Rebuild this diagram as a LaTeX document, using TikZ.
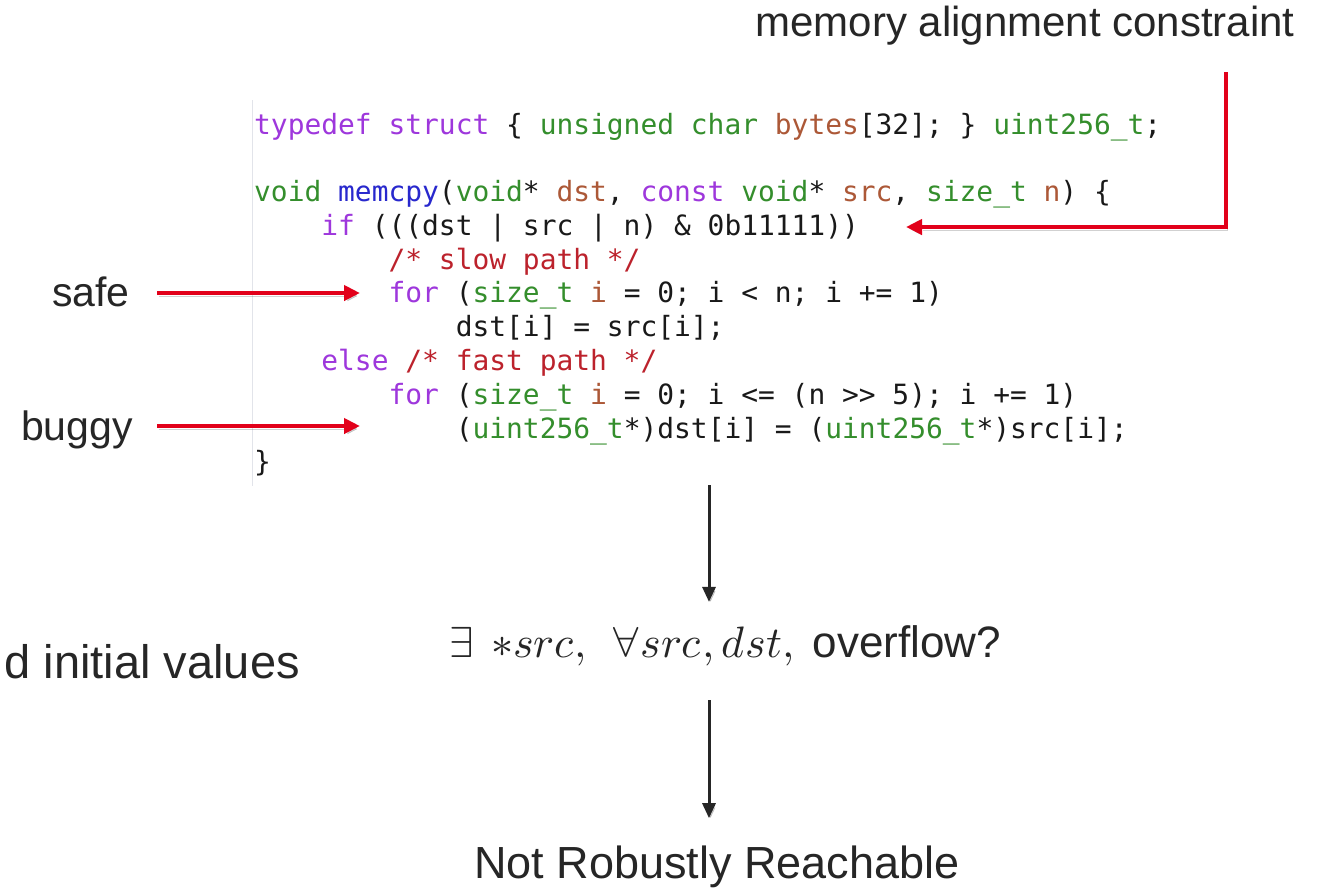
\documentclass[tikz,border=0pt]{standalone}
\usepackage{fontspec}
\usepackage{unicode-math}
\setmainfont{Liberation Sans}
\setmonofont{DejaVu Sans Mono}
\usetikzlibrary{arrows.meta}

% syntax colours of the code listing
\definecolor{kwpurple}{RGB}{158,55,220}
\definecolor{tygreen}{RGB}{52,142,44}
\definecolor{vnbrown}{RGB}{172,88,55}
\definecolor{fnblue}{RGB}{40,40,205}
\definecolor{cmtred}{RGB}{188,34,44}
\definecolor{codeblack}{RGB}{25,25,25}
% annotation colours
\definecolor{alertred}{RGB}{226,0,26}
\definecolor{arrowblack}{RGB}{38,38,38}
\definecolor{labelgray}{RGB}{38,38,38}
\definecolor{gutter}{RGB}{226,228,234}

\newcommand{\kwd}[1]{\textcolor{kwpurple}{#1}}
\newcommand{\typ}[1]{\textcolor{tygreen}{#1}}
\newcommand{\vnm}[1]{\textcolor{vnbrown}{#1}}
\newcommand{\fnc}[1]{\textcolor{fnblue}{#1}}
\newcommand{\cmt}[1]{\textcolor{cmtred}{#1}}

\tikzset{
  codeline/.style={anchor=base west, inner sep=0pt, text=codeblack,
    font=\fontsize{27.9}{32}\selectfont\ttfamily},
  sidelabel/.style={anchor=base east, inner sep=0pt, text=labelgray,
    font=\fontsize{41}{48}\selectfont},
  caption/.style={anchor=base, inner sep=0pt, text=labelgray},
  softshadow/.style={preaction={draw=black, opacity=0.18,
    transform canvas={shift={(1.5pt,-3pt)}}}},
  redarrow/.style={draw=alertred, line width=4pt, softshadow,
    -{Triangle[length=16pt,width=15pt]}},
  blackarrow/.style={draw=arrowblack, line width=3pt, softshadow,
    -{Triangle[length=15pt,width=13pt]}},
}

\begin{document}
\begin{tikzpicture}[x=1pt,y=-1pt]
\useasboundingbox (0,0) rectangle (1322,895);
\fill[white] (0,0) rectangle (1322,895);

% left edge of the editor pane
\draw[gutter, line width=1pt] (252,100) -- (252,486);

% code listing (column width 16.8, line pitch 33.8)
\node[codeline] (l1) at (254,134) {\kwd{typedef} \kwd{struct} \{ \typ{unsigned} \typ{char} \vnm{bytes}[32]; \} \typ{uint256\_t};};
\node[codeline] (l2) at (254,201.5) {\typ{void} \fnc{memcpy}(\typ{void}* \vnm{dst}, \kwd{const} \typ{void}* \vnm{src}, \typ{size\_t} \vnm{n}) \{};
\node[codeline] (l3) at (321.2,235.3) {\kwd{if} (((dst | src | n) \& 0b11111))};
\node[codeline] (l4) at (388.4,269) {\cmt{/* slow path */}};
\node[codeline] (l5) at (388.4,302.8) {\kwd{for} (\typ{size\_t} \vnm{i} = 0; i < n; i += 1)};
\node[codeline] (l6) at (455.6,336.6) {dst[i] = src[i];};
\node[codeline] (l7) at (321.2,370.4) {\kwd{else} \cmt{/* fast path */}};
\node[codeline] (l8) at (388.4,404.2) {\kwd{for} (\typ{size\_t} \vnm{i} = 0; i <= (n >> 5); i += 1)};
\node[codeline] (l9) at (455.6,438) {(\typ{uint256\_t}*)dst[i] = (\typ{uint256\_t}*)src[i];};
\node[codeline] (l10) at (254,471.8) {\}};

% annotations
\node[caption, font=\fontsize{42}{48}\selectfont] (align) at (1025,36) {memory alignment constraint};
\node[sidelabel] (safe) at (130,306) {safe};
\node[sidelabel] (buggy) at (133,440) {buggy};
\node[anchor=base east, inner sep=0pt, text=labelgray, font=\fontsize{47}{54}\selectfont] (init) at (300,678) {d initial values};

\node[anchor=base west, inner sep=0pt, text=labelgray, font=\fontsize{44}{50}\selectfont] (query) at (449,657)
  {$\exists\hspace{0.4em}{\ast}src,\hspace{0.4em}\forall src,dst,$\hspace{0.42em}overflow?};
\node[caption, font=\fontsize{45}{52}\selectfont] (verdict) at (717,878) {Not Robustly Reachable};

% red pointers into the listing
\coordinate (safeTip) at (360,293);
\coordinate (buggyTip) at (360,426);
\coordinate (alignStart) at (1226,72);
\coordinate (alignTip) at (906,227);
\draw[redarrow, shorten <=27pt] (safe.east |- safeTip) -- (safeTip);
\draw[redarrow, shorten <=24pt] (buggy.east |- buggyTip) -- (buggyTip);
\draw[redarrow] (alignStart) |- (alignTip);

% flow from the listing to the query and its verdict
\coordinate (codeBottom) at (709,485);
\coordinate (queryBottom) at (709,700);
\draw[blackarrow, shorten >=23pt] (codeBottom) -- (query.north -| codeBottom);
\draw[blackarrow, shorten >=27pt] (queryBottom) -- (verdict.north -| queryBottom);
\end{tikzpicture}
\end{document}
